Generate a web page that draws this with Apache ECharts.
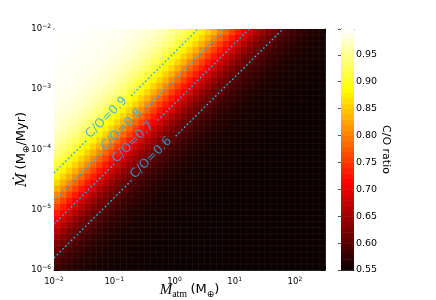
<!DOCTYPE html>
<html><head><meta charset="utf-8">
<script src="https://cdn.jsdelivr.net/npm/echarts@6/dist/echarts.min.js"></script>
<style>html,body{margin:0;padding:0;background:#fff}#c{width:436px;height:300px}</style>
</head><body><div id="c"></div>
<script>
// ---------------- data ----------------
const massDecades = [-2, -1, 0, 1, 2];          // x tick exponents (M_atm, M_earth)
const rateDecades = [-6, -5, -4, -3, -2];       // y tick exponents (Mdot, M_earth/Myr)
const colorbarTicks = [0.55, 0.60, 0.65, 0.70, 0.75, 0.80, 0.85, 0.90, 0.95];
const massRange = [0.01, 316.23];
const rateRange = [1e-6, 1e-2];
const colorRange = [0.55, 1.0];
const cellLogStep = 0.1;                          // cell size in decades
// C/O along each diagonal: log10(Mdot/Matm) = -0.1, -0.2, ..., -8.4
const coByLogRatio = [
  0.999,0.999,0.999,0.999,0.998,0.998,0.997,0.997,0.996,0.995,
  0.993,0.992,0.990,0.987,0.984,0.980,0.975,0.969,0.962,0.953,
  0.942,0.929,0.915,0.897,0.878,0.857,0.833,0.808,0.783,0.757,
  0.732,0.707,0.685,0.664,0.645,0.629,0.615,0.603,0.594,0.585,
  0.578,0.573,0.568,0.565,0.562,0.559,0.558,0.556,0.555,0.554,
  0.553,0.552,0.552,0.552,0.551,0.551,0.551,0.551,0.551,0.550,
  0.550,0.550,0.550,0.550,0.550,0.550,0.550,0.550,0.550,0.550,
  0.550,0.550,0.550,0.550,0.550,0.550,0.550,0.550,0.550,0.550,
  0.550,0.550,0.550,0.550
];
const contourLevels = [0.9, 0.8, 0.7, 0.6];
const contourLogRatio = [-2.39, -2.84, -3.24, -3.80];      // log10(Mdot/Matm) on each contour
const contourLabelLogMass = [-1.08, -0.83, -0.64, -0.34];  // where each label sits

// ---------------- build ----------------
const FONT = 'DejaVu Sans';
const CYAN = '#22aee8';
const lx0 = Math.log10(massRange[0]), ly0 = Math.log10(rateRange[0]);
const nx = Math.round((Math.log10(massRange[1]) - lx0) / cellLogStep);
const ny = Math.round((Math.log10(rateRange[1]) - ly0) / cellLogStep);
const cells = [];
for (let i = 0; i < nx; i++) {
  for (let j = 0; j < ny; j++) {
    const lx = lx0 + i * cellLogStep, ly = ly0 + j * cellLogStep;
    const k = Math.round((lx - ly) / cellLogStep) - 1;
    cells.push([Math.pow(10, lx), Math.pow(10, ly), coByLogRatio[k]]);
  }
}
function hot(t) {
  const c = v => Math.max(0, Math.min(1, v));
  const r = c(0.0416 + t * (1 - 0.0416) / 0.365079);
  const g = c((t - 0.365079) / (0.746032 - 0.365079));
  const b = c((t - 0.746032) / (1 - 0.746032));
  return 'rgb(' + Math.round(r * 255) + ',' + Math.round(g * 255) + ',' + Math.round(b * 255) + ')';
}
const hotStops = [];
for (let s = 0; s <= 40; s++) hotStops.push(hot(s / 40));

const cbTop = 0.998;
const cbBands = [];
for (let s = 0; s < 45; s++) {
  const lo = colorRange[0] + s * 0.01;
  const hi = Math.min(lo + 0.01, cbTop);
  if (lo >= cbTop) break;
  cbBands.push([0, lo, lo + 0.005, hi]);
}

function expLabel(list) {
  return v => {
    const l = Math.log10(v), e = Math.round(l);
    if (Math.abs(l - e) > 1e-6 || list.indexOf(e) < 0) return '';
    return '{b|10}{e|' + (e < 0 ? '\u2212' + (-e) : e) + '}';
  };
}
const tickRich = {
  b: { fontSize: 8.5, fontFamily: FONT, color: '#000', lineHeight: 12 },
  e: { fontSize: 6, fontFamily: FONT, color: '#000', verticalAlign: 'top', lineHeight: 12 }
};

const series = [];
series.push({
  type: 'custom', xAxisIndex: 0, yAxisIndex: 0, data: cells, encode: { x: 0, y: 1 },
  clip: true,
  renderItem: (params, api) => {
    const x = api.value(0), y = api.value(1), f = Math.pow(10, cellLogStep);
    const p0 = api.coord([x, y]), p1 = api.coord([x * f, y * f]);
    return { type: 'rect',
      shape: { x: p0[0], y: p1[1] - 0.7, width: p1[0] - p0[0] + 0.7, height: p0[1] - p1[1] + 0.7 },
      style: { fill: api.visual('color'), stroke: 'rgba(255,255,255,0.07)', lineWidth: 0.7 } };
  }
});
series.push({
  type: 'custom', xAxisIndex: 2, yAxisIndex: 2, data: cbBands, encode: { x: 0, y: 1 },
  renderItem: (params, api) => {
    const p0 = api.coord([0, api.value(1)]), p1 = api.coord([1, api.value(3)]);
    return { type: 'rect',
      shape: { x: p0[0], y: p1[1], width: p1[0] - p0[0], height: p0[1] - p1[1] + 0.5 },
      style: { fill: api.visual('color') } };
  }
});
const gap = 0.36;
contourLevels.forEach((lv, i) => {
  const r = contourLogRatio[i], lm = contourLabelLogMass[i];
  const left = lx0, top = Math.log10(rateRange[1]) - r;
  const segs = [[left, lm - gap], [lm + gap, top]];
  segs.forEach(sg => {
    series.push({
      type: 'line', xAxisIndex: 0, yAxisIndex: 0, symbol: 'none', silent: true,
      data: sg.map(lx => [Math.pow(10, lx), Math.pow(10, lx + r)]),
      lineStyle: { color: CYAN, width: 1.5, type: [1.6, 2.4] }, z: 3
    });
  });
});
series.push({
  type: 'scatter', xAxisIndex: 0, yAxisIndex: 0, symbolSize: 0, z: 4,
  data: contourLevels.map((lv, i) => {
    const lx = contourLabelLogMass[i];
    return { value: [Math.pow(10, lx), Math.pow(10, lx + contourLogRatio[i])],
      label: { formatter: 'C/O=' + lv } };
  }),
  label: { show: true, position: 'inside', rotate: 45, color: CYAN, fontSize: 12.5,
    fontFamily: FONT, offset: [-2, -2] }
});

const frame = { show: true, lineStyle: { color: '#222', width: 1 } };
const option = {
  animation: false,
  backgroundColor: '#fff',
  grid: [
    { left: 54, top: 29, width: 271, height: 241, outerBoundsMode: 'none', containLabel: false },
    { left: 341, top: 29, width: 13, height: 241, outerBoundsMode: 'none', containLabel: false }
  ],
  visualMap: { show: false, type: 'continuous', min: colorRange[0], max: colorRange[1],
    dimension: 2, seriesIndex: [0, 1], inRange: { color: hotStops } },
  xAxis: [
    { gridIndex: 0, type: 'log', logBase: 10, min: massRange[0], max: massRange[1], interval: 1, position: 'bottom',
      axisLine: frame, axisTick: { inside: true, length: 4, lineStyle: { color: '#000' } },
      splitLine: { show: false }, minorSplitLine: { show: false }, splitArea: { show: false },
      axisLabel: { margin: 6, formatter: expLabel(massDecades), rich: tickRich },
      name: '{m|M}{s|atm} {n|(M}{o|\u2295}{n|)}', nameLocation: 'middle', nameGap: 11,
      nameMoveOverlap: false,
      nameTextStyle: { rich: {
        m: { fontFamily: 'Liberation Serif', fontStyle: 'italic', fontSize: 15, color: '#000', lineHeight: 18 },
        s: { fontFamily: 'Liberation Serif', fontSize: 10, color: '#000', verticalAlign: 'bottom', lineHeight: 18 },
        n: { fontFamily: FONT, fontSize: 13, color: '#000', lineHeight: 18 },
        o: { fontFamily: FONT, fontSize: 9, color: '#000', verticalAlign: 'bottom', lineHeight: 18 }
      } } },
    { gridIndex: 0, type: 'log', logBase: 10, min: massRange[0], max: massRange[1], interval: 1, position: 'top',
      axisLine: frame, axisTick: { inside: true, length: 4, lineStyle: { color: '#000' } },
      axisLabel: { show: false }, splitLine: { show: false } },
    { gridIndex: 1, type: 'value', min: 0, max: 1, position: 'bottom',
      axisLine: { show: true, lineStyle: { color: '#555', width: 1 } }, axisTick: { show: false },
      axisLabel: { show: false }, splitLine: { show: false } },
    { gridIndex: 1, type: 'value', min: 0, max: 1, position: 'top',
      axisLine: { show: true, lineStyle: { color: '#555', width: 1 } }, axisTick: { show: false },
      axisLabel: { show: false }, splitLine: { show: false } }
  ],
  yAxis: [
    { gridIndex: 0, type: 'log', logBase: 10, min: rateRange[0], max: rateRange[1], interval: 1, position: 'left',
      axisLine: frame, axisTick: { inside: true, length: 4, lineStyle: { color: '#000' } },
      splitLine: { show: false }, minorSplitLine: { show: false }, splitArea: { show: false },
      axisLabel: { margin: 3, formatter: expLabel(rateDecades), rich: tickRich },
      name: '{m|\u1E40} {n|(M}{o|\u2295}{n|/Myr)}', nameLocation: 'middle', nameGap: 23,
      nameMoveOverlap: false,
      nameTextStyle: { rich: {
        m: { fontFamily: 'DejaVu Serif', fontStyle: 'italic', fontSize: 14, color: '#000', lineHeight: 18 },
        n: { fontFamily: FONT, fontSize: 13, color: '#000', lineHeight: 18 },
        o: { fontFamily: FONT, fontSize: 9, color: '#000', verticalAlign: 'bottom', lineHeight: 18 }
      } } },
    { gridIndex: 0, type: 'log', logBase: 10, min: rateRange[0], max: rateRange[1], interval: 1, position: 'right',
      axisLine: frame, axisTick: { inside: true, length: 4, lineStyle: { color: '#000' } },
      axisLabel: { show: false }, splitLine: { show: false } },
    { gridIndex: 1, type: 'value', min: colorRange[0], max: cbTop, interval: 0.05, position: 'right',
      axisLine: { show: true, lineStyle: { color: '#555', width: 1 } },
      axisTick: { inside: true, length: 3, lineStyle: { color: '#555' } },
      splitLine: { show: false },
      axisLabel: { margin: 2, fontSize: 9.5, fontFamily: FONT, color: '#000',
        formatter: v => colorbarTicks.some(t => Math.abs(t - v) < 1e-6) ? v.toFixed(2) : '' },
      name: 'C/O ratio', nameLocation: 'middle', nameRotate: -90, nameGap: 26,
      nameMoveOverlap: false,
      nameTextStyle: { fontSize: 11, fontFamily: FONT, color: '#000' } },
    { gridIndex: 1, type: 'value', min: colorRange[0], max: cbTop, position: 'left',
      axisLine: { show: true, lineStyle: { color: '#555', width: 1 } }, axisTick: { show: false },
      axisLabel: { show: false }, splitLine: { show: false } }
  ],
  series: series
};
const chart = echarts.init(document.getElementById('c'), null, { renderer: 'canvas' });
chart.setOption(option);
</script></body></html>
